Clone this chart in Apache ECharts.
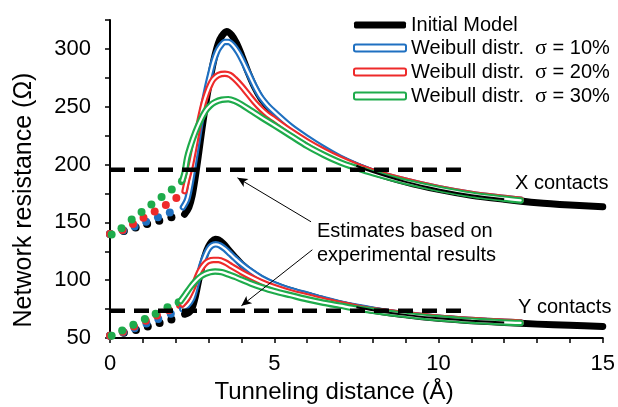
<!DOCTYPE html>
<html><head><meta charset="utf-8">
<script src="https://cdn.jsdelivr.net/npm/echarts@6/dist/echarts.min.js"></script>
<style>html,body{margin:0;padding:0;background:#fff}#c{width:618px;height:407px}</style>
</head><body><div id="c"></div>
<script>
// ---------- data ----------
const seriesNames = ['Initial Model', 'Weibull distr.  σ = 10%', 'Weibull distr.  σ = 20%', 'Weibull distr.  σ = 30%'];
const seriesColors = ['#000000', '#1f70c1', '#ee2a2a', '#1eab4b'];
const xTicks = [0, 5, 10, 15];
const yTicks = [50, 100, 150, 200, 250, 300];

// X contacts (upper group)
const xInitDots = [[0,140],[0.42,142.5],[0.78,145.5],[1.13,148.5],[1.5,151.5],[1.87,154.5]];
const xInitLine = [[2.27,157],[2.4,163],[2.5,173],[2.6,190],[2.7,210],[2.8,231],[2.9,250],[3.0,267],[3.1,282],[3.2,295],[3.3,305],[3.4,311],[3.55,315],[3.7,312],[3.85,305],[4.0,295],[4.2,280],[4.4,267],[4.6,257],[4.8,250],[5.0,244],[5.5,232],[6.0,222],[6.5,213],[7.0,205],[7.5,199],[8.0,193.5],[9.0,185],[10,178.5],[11,173.5],[12,170],[13,167],[14,165],[15,163.5]];
const xW10Dots = [[0,140],[0.40,143],[0.75,146.5],[1.10,150.5],[1.46,154.5],[1.82,158.5]];
const xW10Line = [[2.22,163],[2.35,170],[2.45,183],[2.55,200],[2.65,218],[2.75,236],[2.85,252],[2.95,266],[3.05,278],[3.15,289],[3.25,297],[3.35,302],[3.5,306],[3.6,306],[3.75,303],[3.9,297],[4.05,289],[4.2,280],[4.4,268],[4.6,258],[4.8,251],[5.0,245.5],[5.5,233],[6.0,223],[6.5,214],[7,206],[7.5,199.5],[8,194],[9,186],[10,179.5],[11,174.5],[12,171],[12.5,169.5]];
const xW20Dots = [[0,140],[0.38,143.5],[0.70,148.5],[1.02,154],[1.36,159.5],[1.70,165],[2.02,171]];
const xW20Line = [[2.27,177],[2.35,187],[2.45,198],[2.55,212],[2.65,227],[2.75,241],[2.85,253],[2.95,262],[3.05,269],[3.15,274],[3.3,277.5],[3.5,278.5],[3.65,277.5],[3.8,274],[4.0,268],[4.2,261],[4.4,254],[4.6,248],[4.8,243],[5.0,239],[5.5,229],[6,220],[6.5,212],[7,205],[7.5,199],[8,194],[9,186],[10,179.5],[11,174.5],[12,171],[12.5,169.5]];
const xW30Dots = [[0.05,139.5],[0.35,145],[0.66,152.5],[0.96,159],[1.26,165.5],[1.57,172],[1.88,178.5],[2.19,185.5]];
const xW30Line = [[2.2,186],[2.27,193],[2.35,206],[2.45,216],[2.6,228],[2.75,238],[2.9,246],[3.05,251],[3.2,254],[3.4,256],[3.6,256.5],[3.8,255],[4.0,252],[4.3,246.5],[4.6,241],[5.0,234],[5.5,225],[6,216],[6.5,208.5],[7,202],[7.5,197],[8,192.5],[9,185],[10,179],[11,174],[12,170.5],[12.5,169]];

// Y contacts (lower group)
const yInitDots = [[0,52],[0.42,54.5],[0.79,57],[1.15,60],[1.51,63],[1.87,66]];
const yInitLine = [[2.27,70.5],[2.4,72],[2.5,76],[2.6,86],[2.7,100],[2.8,112],[2.9,122],[3.0,129],[3.1,133.5],[3.2,135.5],[3.3,135],[3.45,131.5],[3.6,126.5],[3.8,120],[4.0,114],[4.3,107],[4.6,101.5],[5.0,96],[5.5,91],[6,87],[6.5,83],[7,79.5],[7.5,76.5],[8,74],[9,70],[10,67],[11,65],[12,63.5],[13,62],[14,61],[15,60]];
const yW10Dots = [[0,52],[0.40,55],[0.75,58.5],[1.11,62.5],[1.47,66.5],[1.85,71]];
const yW10Line = [[2.2,75],[2.35,78],[2.5,84],[2.6,93],[2.7,104],[2.8,114],[2.9,121.5],[3.0,127],[3.1,130],[3.22,131],[3.35,130],[3.5,127],[3.65,123],[3.8,119],[4.0,114],[4.3,107.5],[4.6,102],[5.0,96.5],[5.5,91.5],[6,87.5],[6.5,83.5],[7,80],[7.5,77],[8,74.5],[9,70.5],[10,67.5],[11,65.5],[12,64],[12.5,63.5]];
const yW20Dots = [[0,52],[0.39,55.5],[0.73,60],[1.09,65],[1.43,69.5],[1.79,74],[2.13,78.5]];
const yW20Line = [[2.2,79],[2.35,84],[2.5,92],[2.6,99],[2.7,106],[2.8,111],[2.9,114.5],[3.0,116.5],[3.15,117.5],[3.3,117.5],[3.5,115.5],[3.7,112],[4.0,107],[4.3,102.5],[4.6,98.5],[5.0,94],[5.5,89.5],[6,86],[6.5,82.5],[7,79.5],[7.5,76.5],[8,74],[9,70.5],[10,67.5],[11,65.5],[12,64],[12.5,63.5]];
const yW30Dots = [[0.05,52],[0.37,56.5],[0.71,61.5],[1.06,66.5],[1.39,71],[1.75,76.5],[2.09,81]];
const yW30Line = [[2.15,82],[2.3,88],[2.45,94],[2.6,99],[2.75,103],[2.9,105.5],[3.05,107],[3.2,107.5],[3.4,107],[3.6,105],[3.8,103],[4.0,100.5],[4.3,97],[4.6,94],[5.0,90.5],[5.5,87],[6,83.5],[6.5,80.5],[7,78],[7.5,75.5],[8,73.5],[9,70],[10,67],[11,65],[12,63.5],[12.5,63]];

// experimental estimates (dashed) and arrows
const estimateX = [[0,195.5],[10.75,195.5]];
const estimateY = [[0,73.5],[10.75,73.5]];
const arrowX = [[6.12,150.5],[3.88,188.5]];
const arrowY = [[6.16,126.3],[4.0,77.9]];

// ---------- chart ----------
const FONT = 'Liberation Sans, Arial, sans-serif';
const SMOOTH = 0.3;
const chart = echarts.init(document.getElementById('c'));

const groups = [
  {dots:[xInitDots,xW10Dots,xW20Dots,xW30Dots], lines:[xInitLine,xW10Line,xW20Line,xW30Line]},
  {dots:[yInitDots,yW10Dots,yW20Dots,yW30Dots], lines:[yInitLine,yW10Line,yW20Line,yW30Line]}
];

const series = [];
// dotted parts
groups.forEach(g => {
  g.dots.forEach((d, i) => {
    series.push({type:'scatter', name:seriesNames[i], data:d, symbol:'circle', symbolSize:8,
      itemStyle:{color:seriesColors[i], opacity:1}, silent:true, z:2});
  });
});
// thick initial model
groups.forEach(g => {
  series.push({type:'line', name:seriesNames[0], data:g.lines[0], smooth:SMOOTH,
    showSymbol:false, lineStyle:{color:seriesColors[0], width:7, cap:'round', join:'round'}, itemStyle:{color:'#000'}, silent:true, z:3});
});
// double-outlined Weibull lines
for (let i = 1; i < 4; i++) {
  groups.forEach(g => {
    series.push({type:'line', name:seriesNames[i], data:g.lines[i], smooth:SMOOTH,
      showSymbol:false, lineStyle:{color:seriesColors[i], width:6.5, cap:'round', join:'round'}, itemStyle:{color:seriesColors[i]}, silent:true, z:3});
    series.push({type:'line', name:'_core' + i, data:g.lines[i], smooth:SMOOTH,
      showSymbol:false, lineStyle:{color:'#ffffff', width:2.2, cap:'round', join:'round'}, silent:true, z:3});
  });
}
// black showing through the double line in the tail
groups.forEach(g => {
  series.push({type:'line', name:'_tail', data:g.lines[0].filter(p => p[0] >= 7.5 && p[0] <= 12.5), smooth:SMOOTH,
    showSymbol:false, lineStyle:{color:'#000', width:2}, silent:true, z:3});
});
// dashed estimate lines + arrows
[[estimateX, arrowX], [estimateY, arrowY]].forEach(([est, arr]) => {
  series.push({type:'line', name:'_est', data:est, showSymbol:false, silent:true, z:4,
    lineStyle:{color:'#000', width:4.5, type:[15,9]},
    markLine:{silent:true, symbol:['none','arrow'], symbolSize:[7,10], animation:false,
      label:{show:false}, lineStyle:{color:'#000', width:1, type:'solid'},
      data:[[{coord:arr[0]},{coord:arr[1]}]]}
  });
});

const legendData = seriesNames.map((n, i) => ({
  name: n,
  itemStyle: i === 0 ? {color:'#000', borderWidth:0} : {color:'#fff', borderColor:seriesColors[i], borderWidth:2}
}));

chart.setOption({
  animation:false,
  backgroundColor:'#fff',
  grid:{left:110, right:13, top:20, bottom:69, containLabel:false},
  legend:{
    data:legendData, orient:'vertical', left:348, top:10, icon:'roundRect',
    itemWidth:52, itemHeight:7, itemGap:2, selectedMode:false,
    textStyle:{fontFamily:FONT, fontSize:20, color:'#000', lineHeight:20,
      rich:{
        a:{fontFamily:FONT, fontSize:20, lineHeight:20, color:'#000'},
        s:{fontFamily:'Liberation Serif, Times New Roman, serif', fontSize:22, lineHeight:20, color:'#000'}
      }},
    formatter: n => {
      const k = n.indexOf('σ');
      if (k < 0) return '{a|' + n + '}';
      return '{a|' + n.slice(0, k) + '}{s|σ}{a|' + n.slice(k + 1) + '}';
    }
  },
  xAxis:{type:'value', min:0, max:15, interval:1,
    axisLine:{show:true, onZero:false, lineStyle:{color:'#000', width:2}},
    axisTick:{show:true, length:5, lineStyle:{color:'#000', width:1.5}},
    axisLabel:{fontFamily:FONT, fontSize:22, color:'#000', margin:15,
      formatter: v => xTicks.indexOf(v) >= 0 ? String(v) : ''},
    splitLine:{show:false}},
  yAxis:{type:'value', min:50, max:325, interval:25,
    axisLine:{show:true, lineStyle:{color:'#000', width:2}},
    axisTick:{show:true, length:5, lineStyle:{color:'#000', width:1.5}},
    axisLabel:{fontFamily:FONT, fontSize:22, color:'#000', margin:19,
      formatter: v => yTicks.indexOf(v) >= 0 ? String(v) : ''},
    splitLine:{show:false}},
  graphic:[
    {type:'text', x:334, y:392, style:{text:'Tunneling distance (Å)', fontFamily:FONT, fontSize:24, fill:'#000', textAlign:'center', textVerticalAlign:'middle'}},
    {type:'text', x:24, y:200, rotation:Math.PI/2, style:{text:'Network resistance (Ω)', fontFamily:FONT, fontSize:25, fill:'#000', textAlign:'center', textVerticalAlign:'middle'}},
    {type:'text', x:515, y:183, style:{text:'X contacts', fontFamily:FONT, fontSize:20, fill:'#000', textAlign:'left', textVerticalAlign:'middle'}},
    {type:'text', x:518, y:307, style:{text:'Y contacts', fontFamily:FONT, fontSize:20, fill:'#000', textAlign:'left', textVerticalAlign:'middle'}},
    {type:'text', x:317, y:231, style:{text:'Estimates based on', fontFamily:FONT, fontSize:20, fill:'#000', textAlign:'left', textVerticalAlign:'middle'}},
    {type:'text', x:317, y:255, style:{text:'experimental results', fontFamily:FONT, fontSize:20, fill:'#000', textAlign:'left', textVerticalAlign:'middle'}}
  ],
  series: series
});
</script>
</body></html>
